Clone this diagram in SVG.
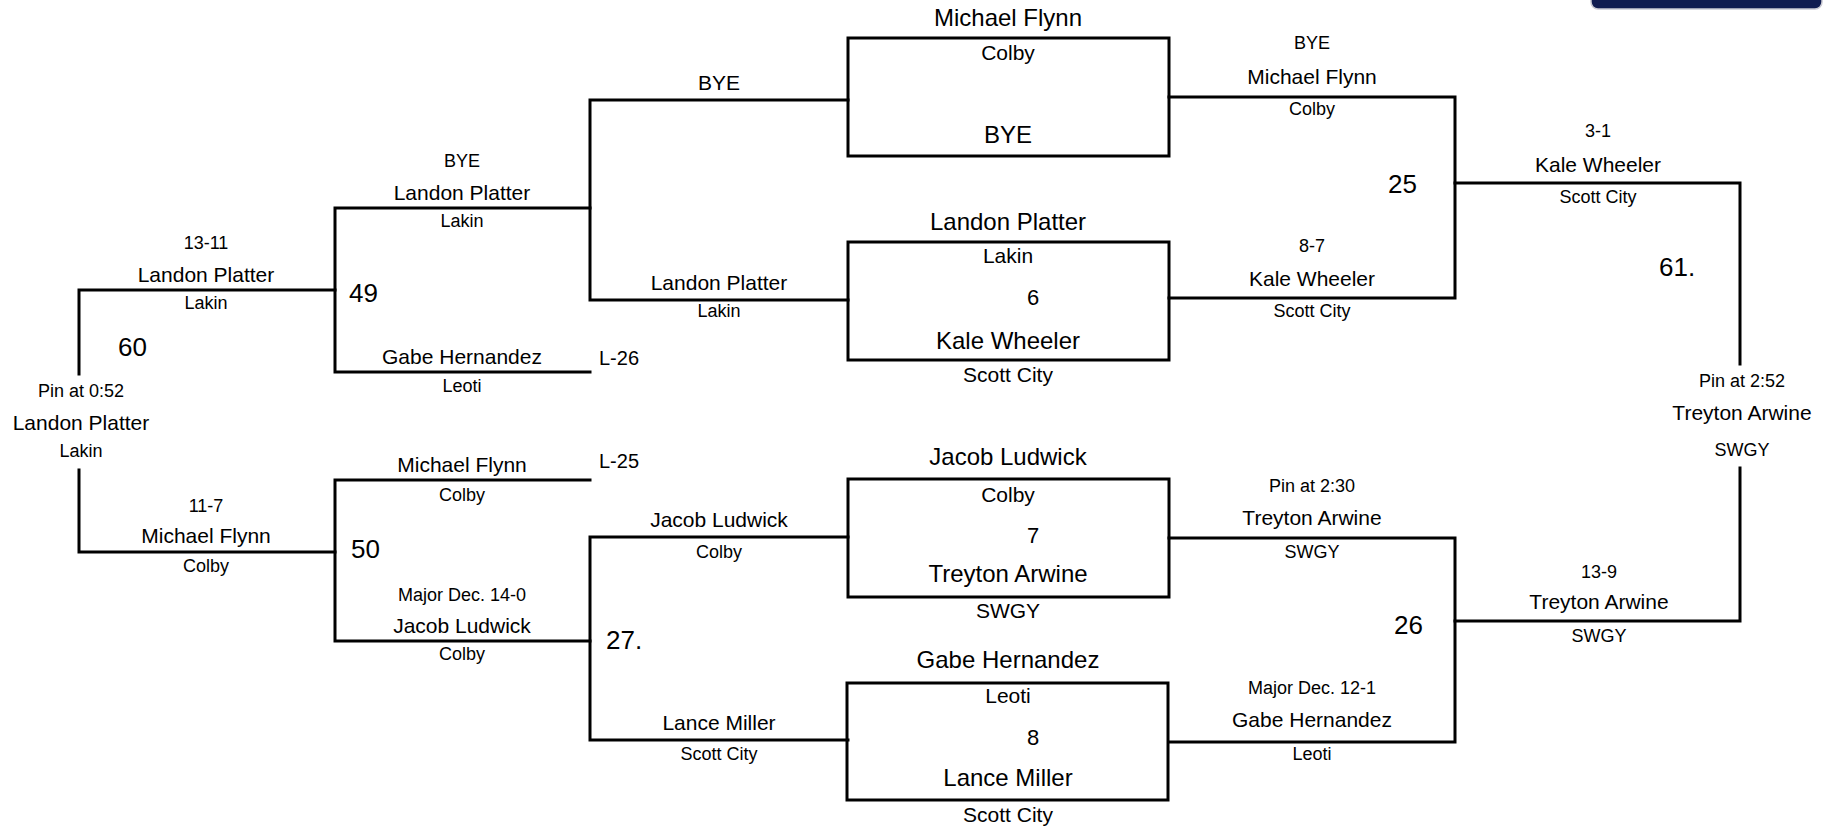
<svg xmlns="http://www.w3.org/2000/svg" width="1830" height="830" viewBox="0 0 1830 830">
<style>
text{font-family:"Liberation Sans",Arial,sans-serif;fill:#000;text-anchor:middle}
.n{font-size:21px}
.s{font-size:18px}
.bh{font-size:24px}
.bs{font-size:21px}
.bn{font-size:22px}
.num{font-size:26px;text-anchor:start}
.l{font-size:20px;text-anchor:start}
.ln{fill:none;stroke:#000;stroke-width:3;stroke-linecap:square}
.box{fill:none;stroke:#000;stroke-width:3}
</style>
<rect x="1591" y="-12" width="231" height="21" rx="7" fill="#101c50" stroke="#c9c9d2" stroke-width="1.5"/>
<g id="connectors">
<path class="ln" d="M79,374 V290 H335"/>
<path class="ln" d="M79,470 V552 H335"/>
<path class="ln" d="M590,208 H335 V372 H590"/>
<path class="ln" d="M590,480 H335 V641 H590"/>
<path class="ln" d="M848,100 H590 V300 H848"/>
<path class="ln" d="M848,537 H590 V740 H848"/>
<path class="ln" d="M1169,97 H1455 V298 H1169"/>
<path class="ln" d="M1455,183 H1740 V364"/>
<path class="ln" d="M1169,538 H1455 V742 H1169"/>
<path class="ln" d="M1455,621 H1740 V468"/>
</g>
<g id="match-bye">
<rect class="box" x="848" y="38" width="321" height="118"/>
<text class="bh" x="1008" y="26">Michael Flynn</text>
<text class="bs" x="1008" y="60">Colby</text>
<text class="bh" x="1008" y="143">BYE</text>
</g>
<g id="match-6">
<rect class="box" x="848" y="242" width="321" height="118"/>
<text class="bh" x="1008" y="230">Landon Platter</text>
<text class="bs" x="1008" y="263">Lakin</text>
<text class="bn" x="1033" y="305">6</text>
<text class="bh" x="1008" y="349">Kale Wheeler</text>
<text class="bs" x="1008" y="382">Scott City</text>
</g>
<g id="match-7">
<rect class="box" x="848" y="479" width="321" height="118"/>
<text class="bh" x="1008" y="465">Jacob Ludwick</text>
<text class="bs" x="1008" y="502">Colby</text>
<text class="bn" x="1033" y="543">7</text>
<text class="bh" x="1008" y="582">Treyton Arwine</text>
<text class="bs" x="1008" y="618">SWGY</text>
</g>
<g id="match-8">
<rect class="box" x="847" y="683" width="321" height="117"/>
<text class="bh" x="1008" y="668">Gabe Hernandez</text>
<text class="bs" x="1008" y="703">Leoti</text>
<text class="bn" x="1033" y="745">8</text>
<text class="bh" x="1008" y="786">Lance Miller</text>
<text class="bs" x="1008" y="822">Scott City</text>
</g>
<g id="entry-bye-line">
<text class="n" x="719" y="90">BYE</text>
</g>
<g id="entry-platter-r1">
<text class="n" x="719" y="290">Landon Platter</text>
<text class="s" x="719" y="317">Lakin</text>
</g>
<g id="entry-ludwick-r1">
<text class="n" x="719" y="527">Jacob Ludwick</text>
<text class="s" x="719" y="558">Colby</text>
</g>
<g id="entry-miller-r1">
<text class="n" x="719" y="730">Lance Miller</text>
<text class="s" x="719" y="760">Scott City</text>
</g>
<g id="entry-flynn-w">
<text class="s" x="1312" y="49">BYE</text>
<text class="n" x="1312" y="84">Michael Flynn</text>
<text class="s" x="1312" y="115">Colby</text>
</g>
<g id="entry-wheeler-w">
<text class="s" x="1312" y="252">8-7</text>
<text class="n" x="1312" y="286">Kale Wheeler</text>
<text class="s" x="1312" y="317">Scott City</text>
</g>
<g id="bout-25"><text class="num" x="1388" y="193">25</text></g>
<g id="entry-wheeler-25">
<text class="s" x="1598" y="137">3-1</text>
<text class="n" x="1598" y="172">Kale Wheeler</text>
<text class="s" x="1598" y="203">Scott City</text>
</g>
<g id="bout-61"><text class="num" x="1659" y="276">61.</text></g>
<g id="entry-arwine-61">
<text class="s" x="1742" y="387">Pin at 2:52</text>
<text class="n" x="1742" y="420">Treyton Arwine</text>
<text class="s" x="1742" y="456">SWGY</text>
</g>
<g id="entry-arwine-w">
<text class="s" x="1312" y="492">Pin at 2:30</text>
<text class="n" x="1312" y="525">Treyton Arwine</text>
<text class="s" x="1312" y="558">SWGY</text>
</g>
<g id="bout-26"><text class="num" x="1394" y="634">26</text></g>
<g id="entry-arwine-26">
<text class="s" x="1599" y="578">13-9</text>
<text class="n" x="1599" y="609">Treyton Arwine</text>
<text class="s" x="1599" y="642">SWGY</text>
</g>
<g id="entry-hernandez-w">
<text class="s" x="1312" y="694">Major Dec. 12-1</text>
<text class="n" x="1312" y="727">Gabe Hernandez</text>
<text class="s" x="1312" y="760">Leoti</text>
</g>
<g id="entry-platter-49top">
<text class="s" x="462" y="167">BYE</text>
<text class="n" x="462" y="200">Landon Platter</text>
<text class="s" x="462" y="227">Lakin</text>
</g>
<g id="entry-hernandez-49">
<text class="n" x="462" y="364">Gabe Hernandez</text>
<text class="s" x="462" y="392">Leoti</text>
<text class="l" x="599" y="365">L-26</text>
</g>
<g id="bout-49"><text class="num" x="349" y="302">49</text></g>
<g id="entry-platter-49">
<text class="s" x="206" y="249">13-11</text>
<text class="n" x="206" y="282">Landon Platter</text>
<text class="s" x="206" y="309">Lakin</text>
</g>
<g id="bout-60"><text class="num" x="118" y="356">60</text></g>
<g id="entry-platter-60">
<text class="s" x="81" y="397">Pin at 0:52</text>
<text class="n" x="81" y="430">Landon Platter</text>
<text class="s" x="81" y="457">Lakin</text>
</g>
<g id="entry-flynn-50top">
<text class="n" x="462" y="472">Michael Flynn</text>
<text class="s" x="462" y="501">Colby</text>
<text class="l" x="599" y="468">L-25</text>
</g>
<g id="bout-50"><text class="num" x="351" y="558">50</text></g>
<g id="entry-flynn-50">
<text class="s" x="206" y="512">11-7</text>
<text class="n" x="206" y="543">Michael Flynn</text>
<text class="s" x="206" y="572">Colby</text>
</g>
<g id="entry-ludwick-50">
<text class="s" x="462" y="601">Major Dec. 14-0</text>
<text class="n" x="462" y="633">Jacob Ludwick</text>
<text class="s" x="462" y="660">Colby</text>
</g>
<g id="bout-27"><text class="num" x="606" y="649">27.</text></g>
</svg>
